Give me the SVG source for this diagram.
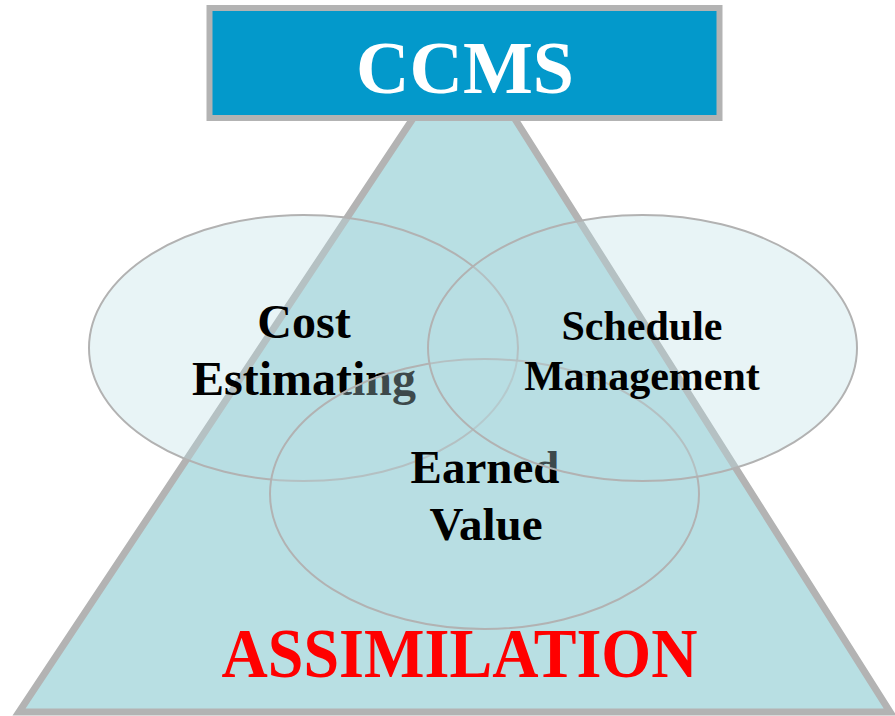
<svg xmlns="http://www.w3.org/2000/svg" width="895" height="716" viewBox="0 0 895 716">
<style>
.ell{fill:#b8dfe3;fill-opacity:0.33;stroke:#b2b2b2;stroke-width:2}
.lbl{font-family:"Liberation Serif","Times New Roman",serif;font-weight:bold;fill:#000;text-anchor:middle}
</style>
<rect width="895" height="716" fill="#ffffff"/>
<g id="triangle">
<polygon points="465,40 19,712 890,712" fill="#b8dfe3" stroke="#b3b3b3" stroke-width="7" stroke-linejoin="miter"/>
</g>
<g id="ccms">
<rect x="209.5" y="8" width="510" height="110" fill="#0399cb" stroke="#b3b3b3" stroke-width="6"/>
<text x="465" y="93" font-family="'Liberation Serif','Times New Roman',serif" font-weight="bold" font-size="74" fill="#ffffff" text-anchor="middle">CCMS</text>
</g>
<g id="cost-estimating">
<ellipse class="ell" cx="303.5" cy="348" rx="214.5" ry="133"/>
<text class="lbl" font-size="48"><tspan x="304" y="338">Cost</tspan><tspan x="304" y="395">Estimating</tspan></text>
</g>
<g id="earned-value">
<ellipse class="ell" cx="484.5" cy="494" rx="214.5" ry="135"/>
<text class="lbl" font-size="47"><tspan x="485" y="483">Earned</tspan><tspan x="486" y="540">Value</tspan></text>
</g>
<g id="schedule-management">
<ellipse class="ell" cx="642.5" cy="348" rx="214.5" ry="133"/>
<text class="lbl" font-size="42"><tspan x="642" y="340">Schedule</tspan><tspan x="642" y="390">Management</tspan></text>
</g>
<g id="assimilation">
<text x="459.5" y="677" font-family="'Liberation Serif','Times New Roman',serif" font-weight="bold" font-size="70" fill="#ff0000" text-anchor="middle" textLength="476" lengthAdjust="spacingAndGlyphs">ASSIMILATION</text>
</g>
</svg>
